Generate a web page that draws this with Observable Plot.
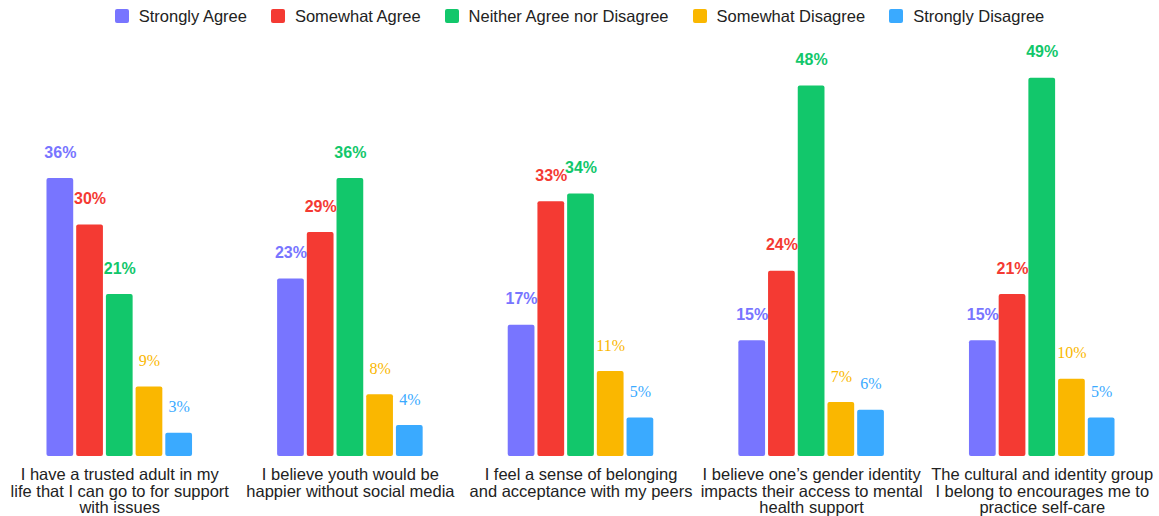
<!DOCTYPE html>
<html>
<head>
<meta charset="utf-8">
<script src="https://cdn.jsdelivr.net/npm/d3@7"></script>
<script src="https://cdn.jsdelivr.net/npm/@observablehq/plot@0.6"></script>
<style>
  body { margin: 0; background: #fff; font-family: "Liberation Sans", Arial, Helvetica, sans-serif; }
  #legend { display: flex; align-items: center; justify-content: center; gap: 24px; height: 32px; width: 1159px; box-sizing: border-box; }
  .item { display: flex; align-items: center; font-size: 16.5px; color: #222; }
  .sw { width: 14px; height: 14px; border-radius: 2px; margin-right: 10px; }
</style>
</head>
<body>
<div id="legend"></div>
<div id="chart"></div>
<script>
const categories = [
  "I have a trusted adult in my\nlife that I can go to for support\nwith issues",
  "I believe youth would be\nhappier without social media",
  "I feel a sense of belonging\nand acceptance with my peers",
  "I believe one\u2019s gender identity\nimpacts their access to mental\nhealth support",
  "The cultural and identity group\nI belong to encourages me to\npractice self-care"
];
const series = ["Strongly Agree", "Somewhat Agree", "Neither Agree nor Disagree", "Somewhat Disagree", "Strongly Disagree"];
const colors = ["#7875FF", "#F43A33", "#12C76B", "#FAB700", "#3AAAFF"];
const stronglyAgree = [36, 23, 17, 15, 15];
const somewhatAgree = [30, 29, 33, 24, 21];
const neitherAgree = [21, 36, 34, 48, 49];
const somewhatDisagree = [9, 8, 11, 7, 10];
const stronglyDisagree = [3, 4, 5, 6, 5];

const seriesValues = [stronglyAgree, somewhatAgree, neitherAgree, somewhatDisagree, stronglyDisagree];
const data = [];
categories.forEach((c, i) => {
  series.forEach((s, j) => {
    data.push({category: c, series: s, value: seriesValues[j][i], si: j});
  });
});

// legend
const legend = document.getElementById("legend");
series.forEach((s, j) => {
  const it = document.createElement("div");
  it.className = "item";
  const sw = document.createElement("div");
  sw.className = "sw";
  sw.style.background = colors[j];
  const t = document.createElement("span");
  t.textContent = s;
  it.appendChild(sw); it.appendChild(t);
  legend.appendChild(it);
});

const chart = Plot.plot({
  width: 1159,
  height: 484,
  marginLeft: 45,
  marginRight: 43,
  marginTop: 38,
  marginBottom: 60,
  fx: {domain: categories, paddingInner: 0.356, paddingOuter: 0, round: false, axis: null},
  x: {domain: series, paddingInner: 0.1, paddingOuter: 0.05, round: false, axis: null},
  y: {domain: [0, 50], axis: null},
  color: {domain: series, range: colors},
  style: {fontFamily: "'Liberation Sans', Arial, Helvetica, sans-serif"},
  marks: [
    Plot.barY(data, {fx: "category", x: "series", y: "value", fill: "series", rx: 2}),
    Plot.text(data.filter(d => d.si < 3), {
      fx: "category", x: "series", y: "value", text: d => d.value + "%",
      fill: "series", dy: -26, fontSize: 16, fontWeight: "bold"
    }),
    Plot.text(data.filter(d => d.si >= 3), {
      fx: "category", x: "series", y: "value", text: d => d.value + "%",
      fill: "series", dy: -26, fontSize: 16, fontFamily: "'Liberation Serif', 'Times New Roman', serif"
    }),
    Plot.text(categories, {
      fx: d => d, text: d => d, frameAnchor: "bottom", lineAnchor: "top",
      dy: 11.6, fontSize: 16.5, lineHeight: 1.01, fill: "#222"
    })
  ]
});
document.getElementById("chart").appendChild(chart);
</script>
</body>
</html>
